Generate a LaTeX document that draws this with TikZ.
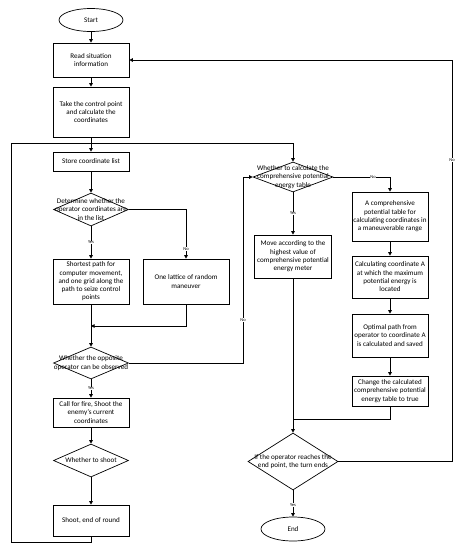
\documentclass[tikz,border=0pt]{standalone}
\usepackage{fontspec}
\setmainfont{Carlito}
\usetikzlibrary{shapes.geometric,arrows.meta}
\begin{document}
\begin{tikzpicture}[x=1pt,y=-1pt,
  every node/.style={font=\fontsize{7.1}{8.3}\selectfont},
  box/.style={draw,line width=0.7pt,rectangle,minimum width=76pt,align=center,inner sep=1pt},
  term/.style={draw,line width=0.7pt,ellipse,minimum width=64pt,minimum height=23pt,inner sep=0pt},
  dec/.style={draw,line width=0.7pt,diamond,inner sep=0pt},
  arr/.style={line width=0.8pt,-{Triangle[width=3.6pt,length=3.6pt]}},
  ln/.style={line width=0.8pt},
  lab/.style={fill=white,inner sep=0.5pt,font=\fontsize{4.5}{5}\selectfont}]
\useasboundingbox (0,0) rectangle (463,550);
% column 1
\node[term] (start) at (91,20) {Start};
\node[box,minimum height=34pt] (read) at (91,60) {Read situation\\information};
\node[box,minimum height=50pt] (take) at (91,112) {Take the control point\\and calculate the\\coordinates};
\node[box,minimum height=19pt] (store) at (91,161.5) {Store coordinate list};
\node[dec,minimum width=75pt,minimum height=33pt,label={[align=center]center:Determine whether the\\operator coordinates are\\in the list}] (d1) at (91,209.5) {};
\node[box,minimum height=45pt] (short) at (91,281.5) {Shortest path for\\computer movement,\\and one grid along the\\path to seize control\\points};
\node[box,minimum width=86pt,minimum height=45pt] (lattice) at (186,281.5) {One lattice of random\\maneuver};
\node[dec,minimum width=75pt,minimum height=32pt,label={[align=center]center:Whether the opposite\\operator can be observed}] (d2) at (91,363) {};
\node[box,minimum height=29pt] (fire) at (91,412.5) {Call for fire, Shoot the\\enemy's current\\coordinates};
\node[dec,minimum width=75pt,minimum height=33pt,label={[align=center]center:Whether to shoot}] (d3) at (91,460.5) {};
\node[box,minimum height=31pt] (shoot) at (91,520.5) {Shoot, end of round};
% column 2
\node[dec,minimum width=80pt,minimum height=30pt,label={[align=center]center:Whether to calculate the\\comprehensive potential\\energy table}] (d4) at (293,177) {};
\node[box,minimum width=77pt,minimum height=43pt] (move) at (293,256.5) {Move according to the\\highest value of\\comprehensive potential\\energy meter};
\node[dec,minimum width=90pt,minimum height=57pt,label={[align=center]center:If the operator reaches the\\end point, the turn ends}] (d5) at (293,461.5) {};
\node[term,minimum height=24pt] (end) at (293,529) {End};
% column 3
\node[box,minimum height=49pt] (comp) at (390,216.5) {A comprehensive\\potential table for\\calculating coordinates in\\a maneuverable range};
\node[box,minimum height=42pt] (calcA) at (390,277) {Calculating coordinate A\\at which the maximum\\potential energy is\\located};
\node[box,minimum height=43pt] (opt) at (390,335.5) {Optimal path from\\operator to coordinate A\\is calculated and saved};
\node[box,minimum height=30pt] (change) at (390,391) {Change the calculated\\comprehensive potential\\energy table to true};
% helper coordinates
\coordinate (m1) at (91,326);
\coordinate (m2) at (293,419);
\coordinate (l1) at (11,542);
\coordinate (l2) at (11,143);
\coordinate (r1) at (243,363);
\coordinate (r2) at (243,177);
\coordinate (q1) at (452,461.5);
\coordinate (q2) at (452,60);
% connectors
\draw[arr] (start) -- (read);
\draw[arr] (read) -- (take);
\draw[arr] (take) -- (store);
\draw[arr] (store) -- (d1);
\draw[arr] (d1.south) -- node[lab,pos=0.5]{Yes} (short.north);
\draw[arr] (d1.east) -| node[lab,pos=0.9]{No} (lattice.north);
\draw[arr] (short.south) -- (d2.north);
\draw[arr] (lattice.south) |- (m1);
\draw[arr] (d2.south) -- node[lab,pos=0.5]{Yes} (fire.north);
\draw[arr] (fire) -- (d3);
\draw[arr] (d3) -- (shoot);
\draw[arr] (shoot.south) |- (l1) -- (l2) -| (d4.north);
\draw[ln] (d2.east) -- (r1) -- node[lab,pos=0.23]{No} (r2);
\draw[arr] (r2) -- (d4.west);
\draw[arr] (d4.south) -- node[lab,pos=0.5]{Yes} (move.north);
\draw[arr] (d4.east) -| node[lab,pos=0.35]{No} (comp.north);
\draw[arr] (comp) -- (calcA);
\draw[arr] (calcA) -- (opt);
\draw[arr] (opt) -- (change);
\draw[ln] (change.south) |- (m2);
\draw[arr] (move.south) -- (d5.north);
\draw[ln] (d5.east) -- (q1) -- node[lab,pos=0.75]{No} (q2);
\draw[arr] (q2) -- (read.east);
\draw[arr] (d5.south) -- node[lab,pos=0.55]{Yes} (end.north);
\end{tikzpicture}
\end{document}
